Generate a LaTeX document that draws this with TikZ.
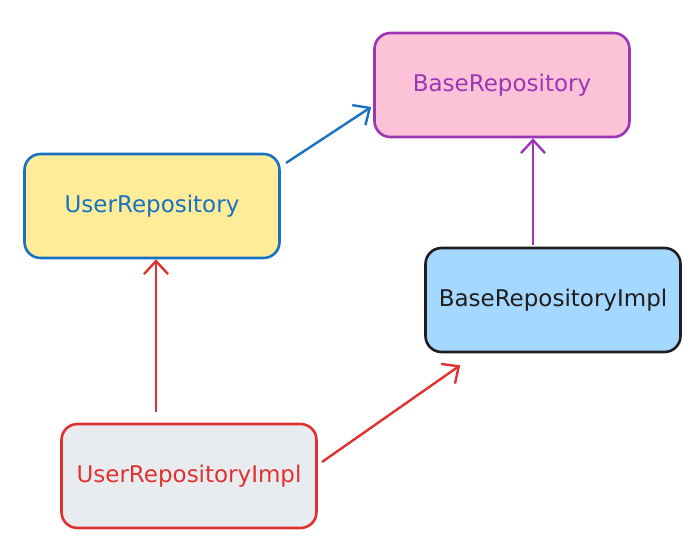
\documentclass[tikz,border=0pt]{standalone}
\usepackage{fontspec}
\setmainfont{DejaVu Sans}
\usepackage{tikz}
\usetikzlibrary{calc, arrows.meta}

\definecolor{purpleline}{HTML}{9C36B5}
\definecolor{pinkfill}{HTML}{FCC2D7}
\definecolor{blueline}{HTML}{1971C2}
\definecolor{yellowfill}{HTML}{FFEC99}
\definecolor{bluefill}{HTML}{A5D8FF}
\definecolor{darkline}{HTML}{1E1E1E}
\definecolor{redline}{HTML}{E03131}
\definecolor{greyfill}{HTML}{E9ECEF}

\begin{document}
\begin{tikzpicture}
          [
            x=1pt, y=-1pt,
            box/.style={draw, rounded corners=16pt, line width=2.6pt,
              minimum width=255pt, minimum height=104pt, font=\fontsize{23}{26}\selectfont},
            link/.style={line width=2.4pt, -{Straight Barb[length=13pt,width=24pt,line width=2.4pt]}}
          ]
          \useasboundingbox (0,0) rectangle (699,554);
          % boxes
          \node [box, draw=purpleline, fill=pinkfill, text=purpleline] (base) at (502,85) {BaseRepository};
          \node [box, draw=blueline, fill=yellowfill, text=blueline] (user) at (152,206) {UserRepository};
          \node [box, draw=darkline, fill=bluefill, text=darkline] (baseimpl) at (553,300) {BaseRepositoryImpl};
          \node [box, draw=redline, fill=greyfill, text=redline] (userimpl) at (189,476) {UserRepositoryImpl};
          % free ends
          \coordinate (userout) at (286,163);
          \coordinate (baseimplout) at (533,245);
          \coordinate (userimplup) at (156,412);
          \coordinate (userimplout) at (322,462);
          % arrows
          \draw [link, blueline] (userout) -- ($(base.west)+(-2,22)$);
          \draw [link, purpleline] (baseimplout) -- (baseimplout |- base.south);
          \draw [link, redline] (userimplup) -- (userimplup |- user.south);
          \draw [link, redline] (userimplout) -- ($(baseimpl.south west)+(36,12)$);
        \end{tikzpicture}
\end{document}
